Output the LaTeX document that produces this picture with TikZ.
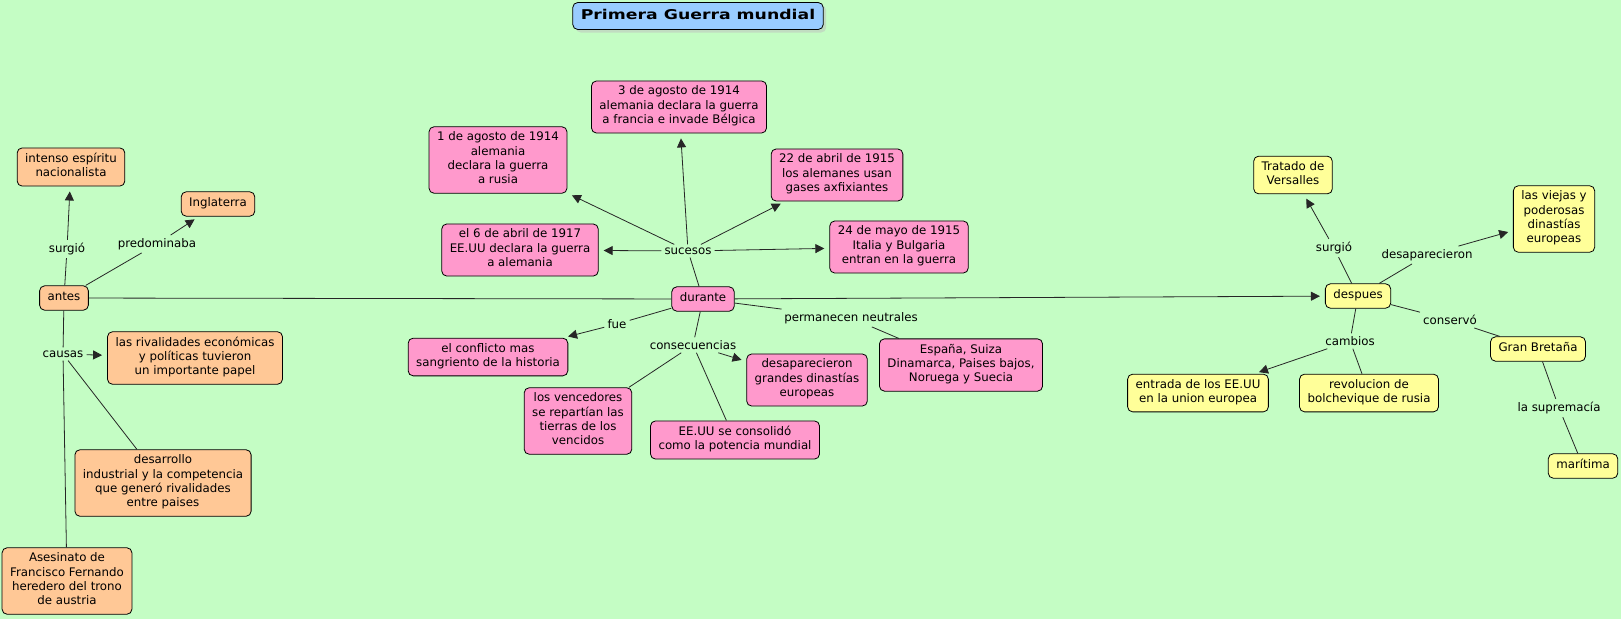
\documentclass[tikz,border=0pt]{standalone}
\usepackage{fontspec}
\setmainfont{DejaVu Sans}
\newfontfamily\titlefont[FakeStretch=1.28]{DejaVu Sans Bold}
\usetikzlibrary{arrows.meta,shadows}
\definecolor{fondo}{HTML}{C4FDC4}
\definecolor{naranja}{HTML}{FFC896}
\definecolor{rosa}{HTML}{FF99CC}
\definecolor{amarillo}{HTML}{FFFF99}
\definecolor{celeste}{HTML}{99CCFF}
\tikzset{
  concept/.style={draw=black, line width=0.8pt, rounded corners=5pt, align=center,
    inner xsep=8pt, inner ysep=5pt, font=\fontsize{11.8}{14.4}\selectfont,
    execute at begin node=\strut, execute at end node=\strut},
  naranjabox/.style={concept, fill=naranja},
  rosabox/.style={concept, fill=rosa},
  amarillobox/.style={concept, fill=amarillo},
  titlebox/.style={concept, fill=celeste, font=\titlefont\fontsize{13.5}{17}\selectfont,
    inner ysep=5pt, drop shadow={shadow xshift=3pt, shadow yshift=-3pt, fill=black!25}},
  linkword/.style={inner sep=3pt, font=\fontsize{11.8}{14.4}\selectfont},
  conn/.style={line width=0.8pt, draw=black!85},
  arr/.style={conn, -{Triangle[length=9pt,width=9pt]}, shorten >=5pt}
}
\begin{document}
\begin{tikzpicture}[x=1pt, y=-1pt]
\fill[fondo] (0,0) rectangle (1621,619);
\useasboundingbox (0,0) rectangle (1621,619);

\node[titlebox] (titulo) at (698,16) {Primera Guerra mundial};

% antes
\node[naranjabox] (antes) at (64,298) {antes};
\node[naranjabox] (intenso) at (71,167) {intenso espíritu\\nacionalista};
\node[naranjabox] (inglaterra) at (218,204) {Inglaterra};
\node[naranjabox] (rivalidades) at (195,358) {las rivalidades económicas\\y políticas tuvieron\\un importante papel};
\node[naranjabox] (desarrollo) at (163,483) {desarrollo\\industrial y la competencia\\que generó rivalidades\\entre paises};
\node[naranjabox] (asesinato) at (67,581) {Asesinato de\\Francisco Fernando\\heredero del trono\\de austria};
\node[linkword] (surgioA) at (67,249) {surgió};
\node[linkword] (predominaba) at (157,244) {predominaba};
\node[linkword] (causas) at (63,354) {causas};

% durante
\node[rosabox] (durante) at (703,299) {durante};
\node[rosabox] (agosto1) at (498,160) {1 de agosto de 1914\\alemania\\declara la guerra\\a rusia};
\node[rosabox] (agosto3) at (679,107) {3 de agosto de 1914\\alemania declara la guerra\\a francia e invade Bélgica};
\node[rosabox] (abril22) at (837,175) {22 de abril de 1915\\los alemanes usan\\gases axfixiantes};
\node[rosabox] (abril6) at (520,250) {el 6 de abril de 1917\\EE.UU declara la guerra\\a alemania};
\node[rosabox] (mayo24) at (899,247) {24 de mayo de 1915\\Italia y Bulgaria\\entran en la guerra};
\node[rosabox] (conflicto) at (488,357) {el conflicto mas\\sangriento de la historia};
\node[rosabox] (neutrales) at (961,365) {España, Suiza\\Dinamarca, Paises bajos,\\Noruega y Suecia};
\node[rosabox] (dinastias) at (807,380) {desaparecieron\\grandes dinastías\\europeas};
\node[rosabox] (vencedores) at (578,421) {los vencedores\\se repartían las\\tierras de los\\vencidos};
\node[rosabox] (consolido) at (735,440) {EE.UU se consolidó\\como la potencia mundial};
\node[linkword] (sucesos) at (688,251) {sucesos};
\node[linkword] (fue) at (617,324) {fue};
\node[linkword] (consecuencias) at (693,345) {consecuencias};
\node[linkword] (permanecen) at (851,318) {permanecen neutrales};

% despues
\node[amarillobox] (despues) at (1358,296) {despues};
\node[amarillobox] (tratado) at (1293,175) {Tratado de\\Versalles};
\node[amarillobox] (viejas) at (1554,219) {las viejas y\\poderosas\\dinastías\\europeas};
\node[amarillobox] (granbretana) at (1538,349) {Gran Bretaña};
\node[amarillobox] (entrada) at (1198,393) {entrada de los EE.UU\\en la union europea};
\node[amarillobox] (revolucion) at (1369,393) {revolucion de\\bolchevique de rusia};
\node[amarillobox] (maritima) at (1583,466) {marítima};
\node[linkword] (surgioB) at (1334,248) {surgió};
\node[linkword] (desaparecieron) at (1427,255) {desaparecieron};
\node[linkword] (conservo) at (1450,320) {conservó};
\node[linkword] (cambios) at (1350,341) {cambios};
\node[linkword] (supremacia) at (1559,408) {la supremacía};

\draw[conn] (antes) -- (surgioA);
\draw[arr] (surgioA) -- (intenso);
\draw[conn] (antes) -- (predominaba);
\draw[arr] (predominaba) -- (inglaterra);
\draw[conn] (antes) -- (causas);
\draw[arr] (causas) -- (rivalidades);
\draw[conn] (causas) -- (desarrollo);
\draw[conn] (causas) -- (asesinato);
\draw[conn] (antes) -- (durante);
\draw[arr] (durante) -- (despues);

\draw[conn] (durante) -- (sucesos);
\draw[arr] (sucesos) -- (agosto1);
\draw[arr] (sucesos) -- (agosto3);
\draw[arr] (sucesos) -- (abril22);
\draw[arr] (sucesos) -- (abril6);
\draw[arr] (sucesos) -- (mayo24);
\draw[conn] (durante) -- (fue);
\draw[arr] (fue) -- (conflicto);
\draw[conn] (durante) -- (consecuencias);
\draw[arr] (consecuencias) -- (dinastias);
\draw[conn] (consecuencias) -- (vencedores);
\draw[conn] (consecuencias) -- (consolido);
\draw[conn] (durante) -- (permanecen);
\draw[conn] (permanecen) -- (neutrales);

\draw[conn] (despues) -- (surgioB);
\draw[arr] (surgioB) -- (tratado);
\draw[conn] (despues) -- (desaparecieron);
\draw[arr] (desaparecieron) -- (viejas);
\draw[conn] (despues) -- (conservo);
\draw[conn] (conservo) -- (granbretana);
\draw[conn] (despues) -- (cambios);
\draw[arr] (cambios) -- (entrada);
\draw[conn] (cambios) -- (revolucion);
\draw[conn] (granbretana) -- (supremacia);
\draw[conn] (supremacia) -- (maritima);
\end{tikzpicture}
\end{document}
